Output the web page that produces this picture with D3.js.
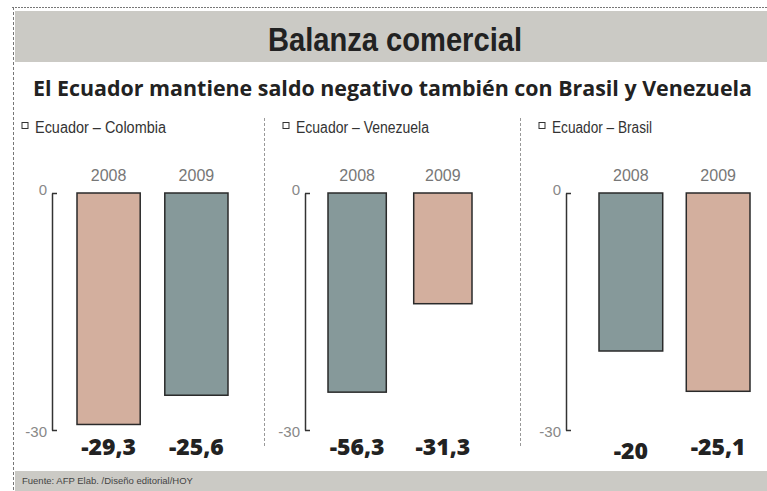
<!DOCTYPE html>
<html>
<head>
<meta charset="utf-8">
<script src="https://cdn.jsdelivr.net/npm/d3@7"></script>
<style>
  body { margin: 0; background: #fff; }
  svg { display: block; }
  .narrow { font-family: "Liberation Sans Narrow", "Liberation Sans", "DejaVu Sans", sans-serif; font-stretch: condensed; }
</style>
</head>
<body>
<div id="chart"></div>
<script>
// data
const panels = ['Ecuador – Colombia', 'Ecuador – Venezuela', 'Ecuador – Brasil']
const years = ['2008', '2009']
const values = [[-29.3, -25.6], [-56.3, -31.3], [-20, -25.1]]
const valueLabels = [['-29,3', '-25,6'], ['-56,3', '-31,3'], ['-20', '-25,1']]
// the graphic does not draw Venezuela to the same scale as the others
const domainMin = [-30, -67, -30]
const axisLabels = ['0', '-30']
const barColors = [['#d3af9e', '#86999a'], ['#86999a', '#d3af9e'], ['#86999a', '#d3af9e']]

const width = 767
const height = 491

const svg = d3.select('#chart')
  .append('svg')
  .attr('width', width)
  .attr('height', height)

// frame
svg.append('line')
  .attr('x1', 12).attr('x2', width).attr('y1', 7.5).attr('y2', 7.5)
  .attr('stroke', '#777').attr('stroke-width', 1).attr('stroke-dasharray', '2 1')
svg.append('line')
  .attr('x1', 13.5).attr('x2', 13.5).attr('y1', 7).attr('y2', height)
  .attr('stroke', '#777').attr('stroke-width', 1).attr('stroke-dasharray', '3 2')

// title band
svg.append('rect')
  .attr('x', 15).attr('y', 11).attr('width', width - 15).attr('height', 51)
  .attr('fill', '#cbcac5')
svg.append('text')
  .attr('class', 'narrow')
  .attr('x', 268).attr('y', 51)
  .attr('textLength', 254)
  .attr('lengthAdjust', 'spacingAndGlyphs')
  .attr('font-size', 34).attr('font-weight', 'bold')
  .attr('fill', '#222')
  .text('Balanza comercial')

svg.append('text')
  .attr('x', 33).attr('y', 96)
  .attr('textLength', 719)
  .attr('lengthAdjust', 'spacingAndGlyphs')
  .attr('font-family', '"Open Sans", sans-serif')
  .attr('font-size', 20.5).attr('font-weight', 'bold')
  .attr('fill', '#222')
  .text('El Ecuador mantiene saldo negativo también con Brasil y Venezuela')

// footer band
svg.append('rect')
  .attr('x', 15).attr('y', 471).attr('width', width - 15).attr('height', 20)
  .attr('fill', '#cbcac5')
svg.append('text')
  .attr('class', 'narrow')
  .attr('x', 22).attr('y', 484)
  .attr('font-size', 9.5)
  .attr('fill', '#444')
  .text('Fuente: AFP Elab. /Diseño editorial/HOY')

// panel geometry
const panelX = [0, 256, 512]
const axisX = [52, 305, 566]
const barInner = [[77, 228], [328, 472], [599, 750]]
const barPad = [0.28, 0.32, 0.27]
const legendW = [131, 133, 100]
const zeroY = 193
const bottomY = 430

panels.forEach((name, i) => {
  const g = svg.append('g')

  if (i > 0) {
    g.append('line')
      .attr('x1', panelX[i] + 8.5).attr('x2', panelX[i] + 8.5)
      .attr('y1', 118).attr('y2', 446)
      .attr('stroke', '#999').attr('stroke-dasharray', '3 2')
  }

  // legend
  const lx = panelX[i] + (i === 0 ? 22 : 27)
  g.append('rect')
    .attr('x', lx).attr('y', 122.5).attr('width', 6).attr('height', 6)
    .attr('fill', '#fff').attr('stroke', '#333').attr('stroke-width', 1)
  g.append('text')
    .attr('class', 'narrow')
    .attr('x', lx + 13).attr('y', 133)
    .attr('textLength', legendW[i])
    .attr('lengthAdjust', 'spacingAndGlyphs')
    .attr('font-size', 16)
    .attr('fill', '#333')
    .text(name)

  const x = d3.scaleBand()
    .domain(years)
    .range(barInner[i])
    .paddingInner(barPad[i])
    .paddingOuter(0)

  const y = d3.scaleLinear()
    .domain([0, domainMin[i]])
    .range([zeroY, bottomY])

  // axis with end ticks only
  const axis = d3.axisLeft(y)
    .tickValues(y.domain())
    .tickSizeInner(-5)
    .tickSizeOuter(0)
    .tickPadding(5)
    .tickFormat((d, j) => axisLabels[j])

  const ag = g.append('g')
    .attr('transform', `translate(${axisX[i]},0)`)
    .call(axis)
  ag.select('.domain').attr('stroke', '#333').attr('stroke-width', 1.5)
  ag.selectAll('.tick line').attr('stroke', '#333').attr('stroke-width', 1.5)
  ag.selectAll('.tick text')
    .attr('class', 'narrow')
    .attr('font-size', 15)
    .attr('fill', '#888')
    .attr('dy', (d, j) => j === 0 ? '0.1em' : '0.45em')

  // year labels
  g.selectAll('.year')
    .data(years)
    .enter().append('text')
    .attr('class', 'narrow')
    .attr('x', d => x(d) + x.bandwidth() / 2)
    .attr('y', 181)
    .attr('text-anchor', 'middle')
    .attr('font-size', 16)
    .attr('fill', '#777')
    .text(d => d)

  // bars
  g.selectAll('.bar')
    .data(values[i])
    .enter().append('rect')
    .attr('x', (d, j) => x(years[j]))
    .attr('y', y(0))
    .attr('width', x.bandwidth())
    .attr('height', d => y(d) - y(0))
    .attr('fill', (d, j) => barColors[i][j])
    .attr('stroke', '#2a2a2a')
    .attr('stroke-width', 1.5)

  // value labels
  g.selectAll('.val')
    .data(valueLabels[i])
    .enter().append('text')
    .attr('x', (d, j) => x(years[j]) + x.bandwidth() / 2)
    .attr('y', (d, j) => (i === 2 && j === 0) ? 459 : 455)
    .attr('text-anchor', 'middle')
    .attr('font-family', '"Open Sans", sans-serif')
    .attr('font-size', 23).attr('font-weight', 800)
    .attr('fill', '#222')
    .text(d => d)
})
</script>
</body>
</html>
